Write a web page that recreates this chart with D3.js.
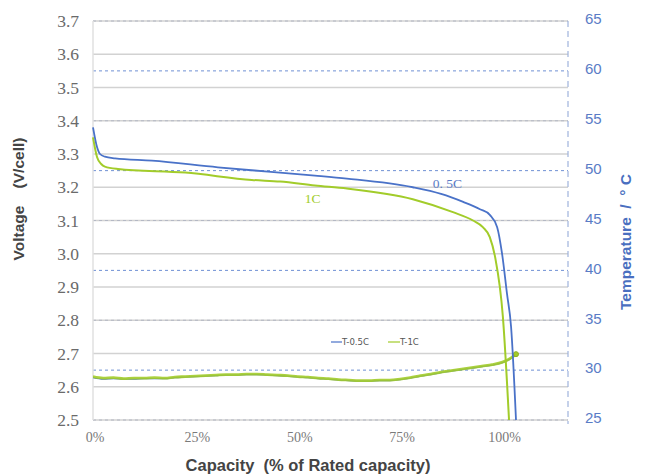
<!DOCTYPE html>
<html><head><meta charset="utf-8">
<script src="https://cdn.jsdelivr.net/npm/d3@7"></script>
<style>body{margin:0;background:#fff}svg{display:block}</style>
</head><body>
<svg id="c" width="647" height="474"></svg>
<script>
// ---- data ----
const voltTicks = [2.5,2.6,2.7,2.8,2.9,3.0,3.1,3.2,3.3,3.4,3.5,3.6,3.7];
const tempTicks = [25,30,35,40,45,50,55,60,65];
const xTicks = [0,25,50,75,100];

const cap05 = [0,1,1.7,2.9,5.4,14.4,30.5,42.7,54.2,62,78.1,85,90.4,94.5,96.9,98.7,99.9,101.1,102.1,103.3];
const volt05 = [3.38,3.32,3.30,3.292,3.287,3.28,3.26,3.247,3.235,3.226,3.20,3.18,3.156,3.134,3.117,3.08,3.0,2.88,2.78,2.5];

const cap1 = [0,1,2,2.9,6.1,22.5,38.8,45.7,54.2,62,78.1,87.9,92.8,95.2,96.9,98.2,100.1,101.6];
const volt1 = [3.35,3.29,3.27,3.262,3.255,3.244,3.222,3.217,3.205,3.196,3.164,3.125,3.10,3.08,3.05,2.99,2.81,2.5];

const capT = [0,2.5,5,7.5,10,12.5,15,17.5,20,22.5,25,27.5,30,32.5,35,37.5,40,42.5,45,47.5,50,52.5,55,57.5,60,62.5,65,67.5,70,72.5,75,77.5,80,82.5,85,87.5,90,92.5,95,97.5,100,102,103.3];
const tempT1 = [29.35,29.2,29.25,29.15,29.2,29.2,29.25,29.2,29.3,29.35,29.4,29.45,29.5,29.55,29.55,29.6,29.6,29.55,29.5,29.45,29.35,29.3,29.2,29.15,29.05,29.0,28.95,28.95,29.0,29.0,29.1,29.25,29.45,29.6,29.8,29.95,30.1,30.25,30.4,30.55,30.8,31.2,31.6];
const tempT05 = [29.25,29.1,29.15,29.1,29.1,29.15,29.15,29.15,29.25,29.3,29.35,29.4,29.45,29.5,29.5,29.55,29.55,29.5,29.45,29.4,29.3,29.25,29.15,29.1,29.0,28.95,28.9,28.9,28.95,28.95,29.05,29.2,29.4,29.55,29.75,29.9,30.05,30.2,30.35,30.5,30.75,31.15,31.55];

const seriesNames = ["T-0.5C","T-1C"];
const curveLabels = ["0. 5C","1C"];

// ---- layout ----
const svg = d3.select("#c");
const L=93, R=568, T=21, B=420;
const x = d3.scaleLinear().domain([0,116]).range([L,R]);
const yV = d3.scaleLinear().domain([2.5,3.7]).range([B,T]);
const yT = d3.scaleLinear().domain([25,65]).range([B,T]);

const blue="#4a72c8", green="#a2cc2a", blueTxt="#5a7cc6";

// solid gridlines
svg.append("g").selectAll("line").data(voltTicks).join("line")
  .attr("x1",L).attr("x2",R).attr("y1",d=>yV(d)).attr("y2",d=>yV(d))
  .attr("stroke","#d2d2d2").attr("stroke-width",1.3);
// temp gridlines (dashed)
svg.append("g").selectAll("line").data(tempTicks).join("line")
  .attr("x1",L).attr("x2",R).attr("y1",d=>yT(d)).attr("y2",d=>yT(d))
  .attr("stroke",d=>d%10===0?"#6f90d4":"#b4b8c4")
  .attr("stroke-width",1).attr("stroke-dasharray","3,3");

// left axis line
svg.append("line").attr("x1",L).attr("x2",L).attr("y1",T).attr("y2",B).attr("stroke","#e0e0e0").attr("stroke-width",1.5);
// right dashed axis line
svg.append("line").attr("x1",R).attr("x2",R).attr("y1",T).attr("y2",B+4).attr("stroke","#9fb3dc").attr("stroke-width",1.2).attr("stroke-dasharray","6,4");

// left ticks
svg.append("g").selectAll("text").data(voltTicks).join("text")
  .attr("x",79).attr("y",d=>yV(d)).attr("dy","0.35em").attr("text-anchor","end")
  .attr("font-family","Liberation Serif, serif").attr("font-size",17.5).attr("fill","#6a6a6a")
  .text(d=>d.toFixed(1));
// right ticks
svg.append("g").selectAll("text").data(tempTicks).join("text")
  .attr("x",585).attr("y",d=>yT(d)-2).attr("dy","0.35em").attr("text-anchor","start")
  .attr("font-family","Liberation Sans, Arial, sans-serif").attr("font-size",15).attr("fill",blueTxt)
  .text(d=>d);
// x ticks
svg.append("g").selectAll("text").data(xTicks).join("text")
  .attr("x",d=>x(d)+2).attr("y",437).attr("dy","0.35em").attr("text-anchor","middle")
  .attr("font-family","Liberation Serif, serif").attr("font-size",14).attr("fill","#7a7a7a")
  .text(d=>d+"%");

// titles
svg.append("text").attr("transform","translate(24,199) rotate(-90)").attr("text-anchor","middle")
  .attr("font-family","Liberation Sans, Arial, sans-serif").attr("font-weight","bold").attr("font-size",15.5)
  .attr("fill","#444").style("white-space","pre").text("Voltage    (V/cell)");
svg.append("text").attr("transform","translate(631,242) rotate(-90)").attr("text-anchor","middle")
  .attr("font-family","Liberation Sans, Arial, sans-serif").attr("font-weight","bold").attr("font-size",15.5)
  .attr("fill","#4a6fc0").style("white-space","pre").text("Temperature  /  ° C");
svg.append("text").attr("x",308).attr("y",465).attr("dy","0.35em").attr("text-anchor","middle")
  .attr("font-family","Liberation Sans, Arial, sans-serif").attr("font-weight","bold").attr("font-size",16.5)
  .attr("fill","#444").style("white-space","pre").text("Capacity  (% of Rated capacity)");

// lines
const lineT = d3.line().x(d=>x(d[0])).y(d=>yT(d[1])).curve(d3.curveMonotoneX);
svg.append("clipPath").attr("id","pc").append("rect").attr("x",L).attr("y",T).attr("width",R-L).attr("height",B-T+1);

const g = svg.append("g").attr("clip-path","url(#pc)");
g.append("path").attr("d",lineT(d3.zip(capT,tempT05))).attr("fill","none").attr("stroke",blue).attr("stroke-width",1.3);
g.append("path").attr("d",lineT(d3.zip(capT,tempT1))).attr("fill","none").attr("stroke",green).attr("stroke-width",2.8).attr("stroke-opacity",0.9);
svg.append("circle").attr("cx",x(capT[capT.length-1])).attr("cy",yT(tempT1[tempT1.length-1])).attr("r",2.5)
  .attr("fill",green).attr("stroke","#8fb020");

// voltage curves
const lineV = d3.line().x(d=>x(d[0])).y(d=>yV(d[1])).curve(d3.curveMonotoneX);
svg.append("path").attr("d",lineV(d3.zip(cap1,volt1))).attr("fill","none").attr("stroke",green).attr("stroke-width",2);
svg.append("path").attr("d",lineV(d3.zip(cap05,volt05))).attr("fill","none").attr("stroke",blue).attr("stroke-width",1.8);

// curve labels
svg.append("text").attr("x",x(83)).attr("y",yV(3.197)).attr("font-family","Liberation Serif, serif").attr("font-size",13.5)
  .attr("fill",blueTxt).style("white-space","pre").text(curveLabels[0]);
svg.append("text").attr("x",x(51.7)).attr("y",yV(3.153)).attr("font-family","Liberation Serif, serif").attr("font-size",13.5)
  .attr("fill",green).text(curveLabels[1]);

// legend
const lg = svg.append("g").attr("font-family","DejaVu Sans Condensed, Liberation Sans Narrow, sans-serif").attr("font-size",9.5).attr("fill","#555");
lg.append("line").attr("x1",331).attr("x2",342).attr("y1",342).attr("y2",342).attr("stroke",blue).attr("stroke-width",1.2);
lg.append("text").attr("x",342).attr("y",342).attr("dy","0.35em").text(seriesNames[0]);
lg.append("line").attr("x1",388).attr("x2",400).attr("y1",342).attr("y2",342).attr("stroke",green).attr("stroke-width",1.2);
lg.append("text").attr("x",400).attr("y",342).attr("dy","0.35em").text(seriesNames[1]);
</script>
</body></html>
